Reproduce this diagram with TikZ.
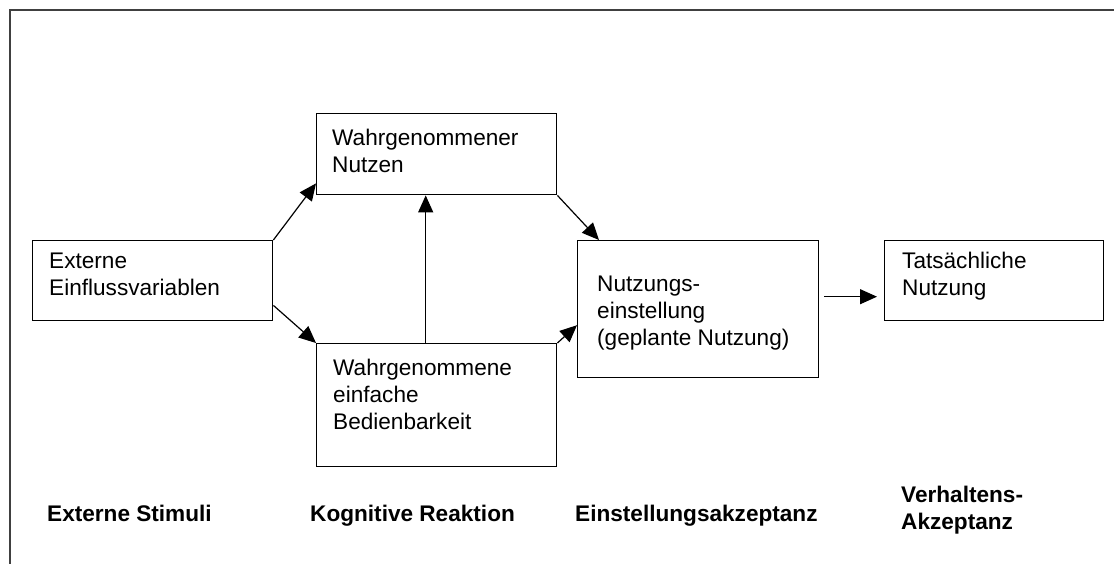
\documentclass[tikz,border=0pt]{standalone}
\usepackage{fontspec}
\setmainfont{Liberation Sans}
\usetikzlibrary{positioning,arrows.meta}

\begin{document}
\begin{tikzpicture}[x=1pt,y=-1pt,
  box/.style={draw,line width=1.4pt,inner sep=0pt,anchor=north west},
  txt/.style={anchor=north west,inner sep=0pt,align=left,
    font=\fontsize{22.6}{27}\selectfont},
  stage/.style={txt,font=\fontsize{22.6}{27}\selectfont\bfseries},
  arr/.style={line width=1.2pt,-{Triangle[length=17pt,width=15pt]}}]
  \useasboundingbox (0,0) rectangle (1114,564);
  \draw[line width=2.5pt,black!75] (10,564) -- (10,10) -- (1114,10);
  % boxes
  \node[box,minimum width=240pt,minimum height=80pt] (ext) at (32,240) {};
  \node[box,minimum width=240pt,minimum height=81pt] (nutz) at (316,113) {};
  \node[box,minimum width=240pt,minimum height=123pt] (bed) at (316,343) {};
  \node[box,minimum width=241pt,minimum height=137pt] (einst) at (577,240) {};
  \node[box,minimum width=219pt,minimum height=80pt] (tats) at (884,240) {};
  % box texts
  \node[txt] (extT) at ([xshift=17pt,yshift=-13pt]ext.north west)
    {Externe\\Einflussvariablen};
  \node[txt] (nutzT) at ([xshift=16pt,yshift=-16pt]nutz.north west)
    {Wahrgenommener\\Nutzen};
  \node[txt] (bedT) at ([xshift=17pt,yshift=-16pt]bed.north west)
    {Wahrgenommene\\einfache\\Bedienbarkeit};
  \node[txt] (einstT) at ([xshift=20pt,yshift=-36pt]einst.north west)
    {Nutzungs-\\einstellung\\(geplante Nutzung)};
  \node[txt] (tatsT) at ([xshift=18pt,yshift=-12pt]tats.north west)
    {Tatsächliche\\Nutzung};
  % stages
  \node[stage] (st1) at (47,505) {Externe Stimuli};
  \node[stage] (st2) at (310,505) {Kognitive Reaktion};
  \node[stage] (st3) at (575,505) {Einstellungsakzeptanz};
  \node[stage] (st4) at (901,486) {Verhaltens-\\Akzeptanz};
  % arrows
  \draw[arr] (ext.north east) -- ([yshift=12pt]nutz.south west);
  \draw[arr] ([yshift=16pt]ext.south east) -- (bed.north west);
  \draw[arr] ([xshift=-11pt]bed.north) -- ([xshift=-11pt]nutz.south);
  \draw[arr] (nutz.south east) -- ([xshift=22pt]einst.north west);
  \draw[arr] (bed.north east) -- ([yshift=-16pt]einst.west);
  \draw[arr] ([xshift=5pt,yshift=12.5pt]einst.east)
    -- ([xshift=-7pt,yshift=-16pt]tats.west);
\end{tikzpicture}
\end{document}
